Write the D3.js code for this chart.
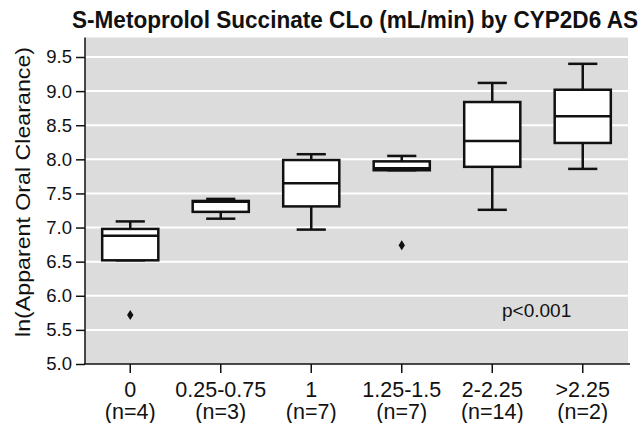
<!DOCTYPE html>
<html>
<head>
<meta charset="utf-8">
<script src="https://cdn.jsdelivr.net/npm/d3@7"></script>
<style>
  body { margin: 0; background: #fff; }
  text { font-family: "Liberation Sans", Arial, sans-serif; }
</style>
</head>
<body>
<svg id="chart" width="643" height="423"></svg>
<script>
// data
const categories = ["0", "0.25-0.75", "1", "1.25-1.5", "2-2.25", ">2.25"];
const nLabels = ["(n=4)", "(n=3)", "(n=7)", "(n=7)", "(n=14)", "(n=2)"];
const whiskerLow = [6.52, 7.13, 6.97, 7.84, 7.26, 7.86];
const q1 = [6.52, 7.23, 7.31, 7.84, 7.89, 8.24];
const median = [6.88, 7.38, 7.65, 7.87, 8.27, 8.63];
const q3 = [6.98, 7.39, 7.99, 7.97, 8.84, 9.02];
const whiskerHigh = [7.09, 7.42, 8.075, 8.05, 9.12, 9.40];
const outliers = [[5.72], [], [], [6.74], [], []];
const yTicks = [5.0, 5.5, 6.0, 6.5, 7.0, 7.5, 8.0, 8.5, 9.0, 9.5];

const boxes = categories.map((c, i) => ({
  cat: c, n: nLabels[i], lo: whiskerLow[i], q1: q1[i], med: median[i],
  q3: q3[i], hi: whiskerHigh[i], out: outliers[i]
}));

const plotLeft = 85, plotRight = 628, plotBottom = 364;
const svg = d3.select("#chart");

var x = d3.scaleBand().domain(categories).range([plotLeft, plotRight]);
var y = d3.scaleLinear().domain([5, 9.5]).range([plotBottom, 57]);
const plotTop = y(9.785);

// background
svg.append("rect")
  .attr("x", plotLeft).attr("y", plotTop)
  .attr("width", plotRight - plotLeft).attr("height", plotBottom - plotTop)
  .attr("fill", "#dcdcdc");

// grid
svg.selectAll(".grid")
  .data(yTicks.slice(1))
  .enter()
  .append("line")
  .attr("x1", plotLeft).attr("x2", plotRight)
  .attr("y1", d => y(d)).attr("y2", d => y(d))
  .attr("stroke", "#fff")
  .attr("stroke-width", 2);

// y axis
var yAxis = svg.append("g")
  .attr("transform", "translate(" + plotLeft + ",0)")
  .call(d3.axisLeft(y).tickValues(yTicks).tickFormat(d3.format(".1f")).tickSize(9).tickPadding(4));
yAxis.select(".domain").remove();
yAxis.selectAll("line").attr("stroke", "#111").attr("stroke-width", 1.5);
yAxis.selectAll("text").attr("font-size", "18.5px").attr("fill", "#111")
  .attr("font-family", "Liberation Sans, Arial, sans-serif");
svg.append("line")
  .attr("x1", plotLeft).attr("x2", plotLeft).attr("y1", plotTop).attr("y2", plotBottom)
  .attr("stroke", "#111").attr("stroke-width", 1.5);

// x axis
var xAxis = svg.append("g")
  .attr("transform", "translate(0," + plotBottom + ")")
  .call(d3.axisBottom(x).tickSize(9).tickPadding(4));
xAxis.select(".domain").remove();
xAxis.selectAll("line").attr("stroke", "#111").attr("stroke-width", 1.5);
xAxis.selectAll("text").remove();
svg.append("line")
  .attr("x1", plotLeft - 1).attr("x2", plotRight + 2).attr("y1", plotBottom).attr("y2", plotBottom)
  .attr("stroke", "#111").attr("stroke-width", 1.5);

var xl = svg.selectAll(".xlab")
  .data(boxes)
  .enter()
  .append("text")
  .attr("text-anchor", "middle")
  .attr("font-size", "21.5px")
  .attr("fill", "#111");
xl.append("tspan")
  .attr("x", d => x(d.cat) + x.bandwidth() / 2)
  .attr("y", 397)
  .text(d => d.cat);
xl.append("tspan")
  .attr("x", d => x(d.cat) + x.bandwidth() / 2)
  .attr("y", 419)
  .text(d => d.n);

// boxes
const bw = x.bandwidth() * 0.62;
const cw = bw * 0.52;
var g = svg.selectAll(".box")
  .data(boxes)
  .enter()
  .append("g")
  .attr("transform", d => "translate(" + (x(d.cat) + x.bandwidth() / 2) + ",0)");

g.append("line")
  .attr("x1", 0).attr("x2", 0)
  .attr("y1", d => y(d.hi)).attr("y2", d => y(d.lo))
  .attr("stroke", "#111").attr("stroke-width", 2.5);
g.append("line")
  .attr("x1", -cw / 2).attr("x2", cw / 2)
  .attr("y1", d => y(d.hi)).attr("y2", d => y(d.hi))
  .attr("stroke", "#111").attr("stroke-width", 2.5);
g.append("line")
  .attr("x1", -cw / 2).attr("x2", cw / 2)
  .attr("y1", d => y(d.lo)).attr("y2", d => y(d.lo))
  .attr("stroke", "#111").attr("stroke-width", 2.5);
g.append("rect")
  .attr("x", -bw / 2).attr("width", bw)
  .attr("y", d => y(d.q3))
  .attr("height", d => y(d.q1) - y(d.q3))
  .attr("fill", "#fff")
  .attr("stroke", "#111").attr("stroke-width", 2.5);
g.append("line")
  .attr("x1", -bw / 2).attr("x2", bw / 2)
  .attr("y1", d => y(d.med)).attr("y2", d => y(d.med))
  .attr("stroke", "#111").attr("stroke-width", 2.5);

// outliers (diamonds)
g.selectAll(".out")
  .data(d => d.out)
  .enter()
  .append("path")
  .attr("d", v => "M0," + (y(v) - 5) + "L3.2," + y(v) + "L0," + (y(v) + 5) + "L-3.2," + y(v) + "Z")
  .attr("fill", "#111");

// p value
svg.append("text")
  .attr("x", 502).attr("y", 316.5)
  .attr("font-family", "Open Sans, sans-serif")
  .attr("font-size", "19px")
  .attr("fill", "#111")
  .text("p<0.001");

// y label
svg.append("text")
  .attr("transform", "translate(29.5,192) rotate(-90)")
  .attr("text-anchor", "middle")
  .attr("font-size", "20.5px")
  .attr("textLength", 290)
  .attr("lengthAdjust", "spacingAndGlyphs")
  .attr("fill", "#111")
  .text("ln(Apparent Oral Clearance)");

// title
svg.append("text")
  .attr("x", 72).attr("y", 28)
  .attr("font-size", "23.5px")
  .attr("font-weight", "bold")
  .attr("textLength", 566)
  .attr("lengthAdjust", "spacingAndGlyphs")
  .attr("fill", "#111")
  .text("S-Metoprolol Succinate CLo (mL/min) by CYP2D6 AS");
</script>
</body>
</html>
